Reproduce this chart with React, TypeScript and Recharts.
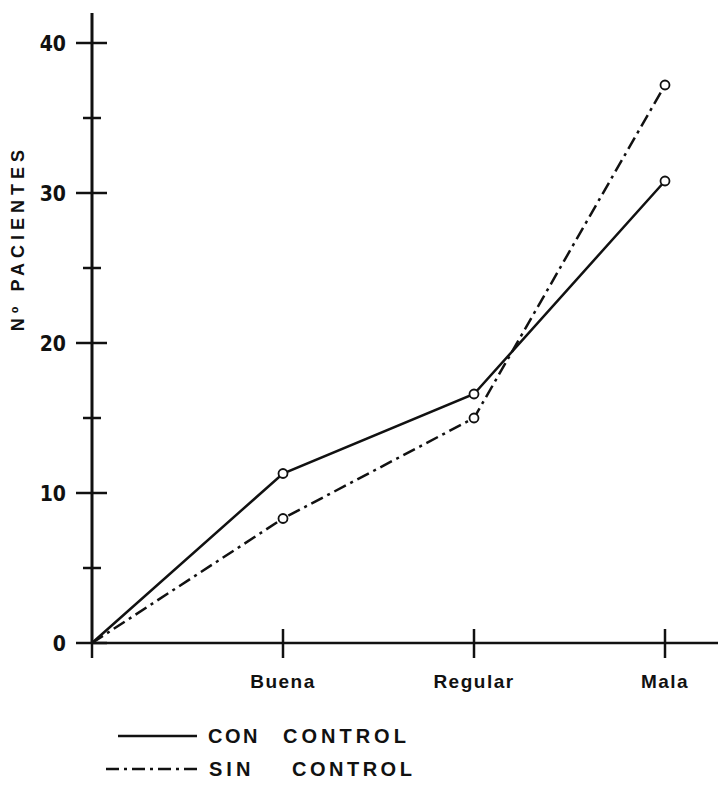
import React from 'react';
import { LineChart, Line, XAxis, YAxis } from 'recharts';

// categorías del eje X (la primera es el origen)
const categorias = ['', 'Buena', 'Regular', 'Mala'];
const conControl = [0, 11.3, 16.6, 30.8];
const sinControl = [0, 8.3, 15.0, 37.2];
const yTicks = [0, 5, 10, 15, 20, 25, 30, 35, 40];
const yMayores = [0, 10, 20, 30, 40];

const data = categorias.map((c, i) => ({ cat: c, con: conControl[i], sin: sinControl[i] }));

const INK = '#111';
const AXIS_X = 92;
const DASH_DOT = '13 5 3 5';

const YTick = (props: any) => {
  const { y, payload } = props;
  const v = payload.value;
  const mayor = yMayores.includes(v);
  return (
    <g>
      <line x1={AXIS_X - (mayor ? 16 : 9)} x2={AXIS_X + (mayor ? 15 : 9)} y1={y} y2={y} stroke={INK} strokeWidth={2.5} />
      {mayor && (
        <text
          x={AXIS_X - 26}
          y={y}
          dy="0.36em"
          textAnchor="end"
          fill={INK}
          fontFamily="'DejaVu Sans Condensed', 'DejaVu Sans', sans-serif"
          fontWeight={700}
          fontSize={21}
        >
          {v}
        </text>
      )}
    </g>
  );
};

const XTick = (props: any) => {
  const { x, y, payload } = props;
  const label = payload.value;
  return (
    <g>
      <line x1={x} x2={x} y1={label ? y - 14 : y} y2={y + 15} stroke={INK} strokeWidth={2.5} />
      {label && (
        <text
          x={x}
          y={y + 45}
          textAnchor="middle"
          fill={INK}
          fontFamily="'Liberation Sans', Arial, sans-serif"
          fontWeight={700}
          fontSize={19}
          letterSpacing={1.5}
        >
          {label}
        </text>
      )}
    </g>
  );
};

const Punto = (props: any) => {
  const { cx, cy, index, dataKey } = props;
  if (index === 0) return <g key={`${dataKey}-${index}`} />;
  return <circle key={`${dataKey}-${index}`} cx={cx} cy={cy} r={4.5} fill="#fff" stroke={INK} strokeWidth={1.8} />;
};

const legendFont = "'Liberation Sans', Arial, sans-serif";

export default function App() {
  return (
    <div style={{ position: 'absolute', left: 0, top: 0, width: 718, height: 788, background: '#fff' }}>
      <LineChart width={718} height={788} data={data} margin={{ top: 13, right: 0, bottom: 0, left: 0 }}>
        <XAxis
          dataKey="cat"
          height={145}
          padding={{ left: 0, right: 53 }}
          interval={0}
          tickSize={0}
          tickMargin={0}
          tickLine={false}
          tick={<XTick />}
          axisLine={{ stroke: INK, strokeWidth: 2.5 }}
        />
        <YAxis
          width={AXIS_X}
          domain={[0, 42]}
          ticks={yTicks}
          interval={0}
          tickSize={0}
          tickMargin={0}
          tickLine={false}
          tick={<YTick />}
          axisLine={{ stroke: INK, strokeWidth: 3 }}
        />
        <Line
          dataKey="con"
          name="CON CONTROL"
          stroke={INK}
          strokeWidth={2.5}
          dot={(p: any) => <Punto {...p} dataKey="con" />}
          isAnimationActive={false}
        />
        <Line
          dataKey="sin"
          name="SIN CONTROL"
          stroke={INK}
          strokeWidth={2.5}
          strokeDasharray={DASH_DOT}
          dot={(p: any) => <Punto {...p} dataKey="sin" />}
          isAnimationActive={false}
        />
      </LineChart>
      <svg width={718} height={788} style={{ position: 'absolute', left: 0, top: 0, pointerEvents: 'none' }}>
        <text
          transform="translate(24, 238) rotate(-90)"
          textAnchor="middle"
          fill={INK}
          fontFamily={legendFont}
          fontWeight={700}
          fontSize={18}
          letterSpacing={5}
        >
          Nº   PACIENTES
        </text>
        <line x1={118} x2={197} y1={736} y2={736} stroke={INK} strokeWidth={2.5} />
        <text x={208} y={743} fill={INK} fontFamily={legendFont} fontWeight={700} fontSize={20} letterSpacing={2.5}>CON</text>
        <text x={283} y={743} fill={INK} fontFamily={legendFont} fontWeight={700} fontSize={20} letterSpacing={4}>CONTROL</text>
        <line x1={106} x2={197} y1={769} y2={769} stroke={INK} strokeWidth={2.5} strokeDasharray={DASH_DOT} />
        <text x={209} y={776} fill={INK} fontFamily={legendFont} fontWeight={700} fontSize={20} letterSpacing={4}>SIN</text>
        <text x={292} y={776} fill={INK} fontFamily={legendFont} fontWeight={700} fontSize={20} letterSpacing={3.5}>CONTROL</text>
      </svg>
    </div>
  );
}
